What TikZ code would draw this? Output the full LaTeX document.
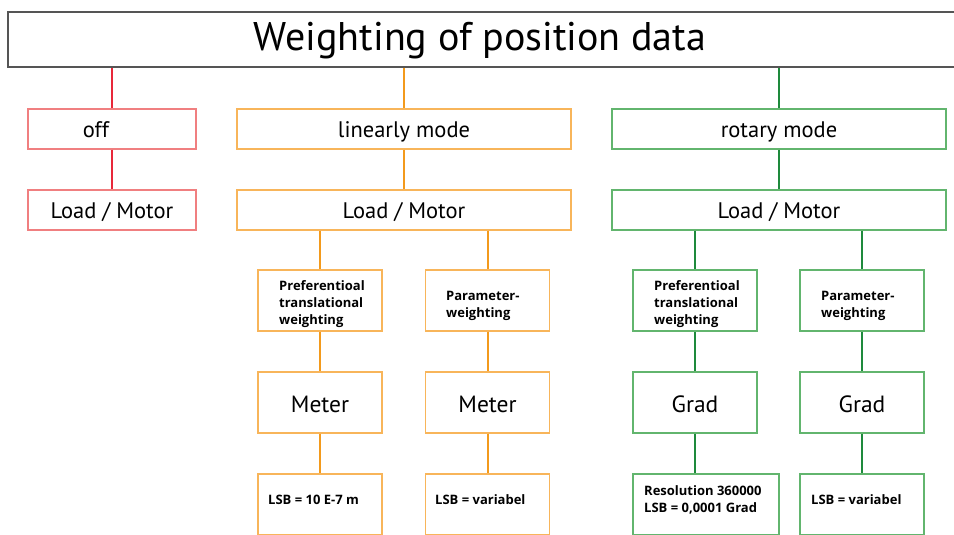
\documentclass[tikz,border=0pt]{standalone}
\usepackage{fontspec}
\setmainfont{PT Sans}
\newfontfamily\smallfont{Open Sans}
\definecolor{cred}{HTML}{E8283A}
\definecolor{credb}{HTML}{F07F80}
\definecolor{corg}{HTML}{F39A1C}
\definecolor{corgb}{HTML}{F8B55A}
\definecolor{cgrn}{HTML}{1E8A3C}
\definecolor{cgrnb}{HTML}{62B56E}
\definecolor{cgray}{HTML}{555555}
\tikzset{
  box/.style={draw, line width=1.4pt, minimum height=40pt, inner sep=0pt, font=\fontsize{22.5}{26}\selectfont, text height=19.5pt, text depth=2pt},
  subbox/.style={draw, line width=1.4pt, minimum width=124pt, minimum height=61pt, inner sep=0pt},
  small/.style={font=\smallfont\bfseries\fontsize{13}{17}\selectfont, align=left, inner sep=0pt, anchor=west},
  big/.style={font=\fontsize{23.5}{26}\selectfont, text height=21.5pt, text depth=2pt},
  con/.style={line width=2pt}
}
\begin{document}
\begin{tikzpicture}[x=1pt,y=-1pt]
\useasboundingbox (0,0) rectangle (954,535);
% title
\node[draw=cgray, line width=1.5pt, minimum width=962pt, minimum height=55pt, inner sep=0pt] (title) at (489,39.5) {};
\node[font=\fontsize{40}{46}\selectfont] (ttext) at (480,40.5) {Weighting of position data};
% red branch
\node[box, draw=credb, minimum width=168pt] (off) at (112,129) {\hspace*{-32pt}off};
\node[box, draw=credb, minimum width=168pt] (rlm) at (112,210) {Load / Motor};
% orange branch
\node[box, draw=corgb, minimum width=334pt] (lin) at (404,129) {linearly mode};
\node[box, draw=corgb, minimum width=334pt] (olm) at (404,210) {Load / Motor};
\node[subbox, draw=corgb] (op1) at (320,300.5) {};
\node[subbox, draw=corgb] (op2) at (487.5,300.5) {};
\node[subbox, draw=corgb, big] (om1) at (320,402.5) {Meter};
\node[subbox, draw=corgb, big] (om2) at (487.5,402.5) {Meter};
\node[subbox, draw=corgb] (ol1) at (320,504.5) {};
\node[subbox, draw=corgb] (ol2) at (487.5,504.5) {};
% green branch
\node[box, draw=cgrnb, minimum width=334pt] (rot) at (779,129) {rotary mode};
\node[box, draw=cgrnb, minimum width=334pt] (glm) at (779,210) {Load / Motor};
\node[subbox, draw=cgrnb] (gp1) at (695,300.5) {};
\node[subbox, draw=cgrnb] (gp2) at (862,300.5) {};
\node[subbox, draw=cgrnb, big] (gm1) at (695,402.5) {Grad};
\node[subbox, draw=cgrnb, big] (gm2) at (862,402.5) {Grad};
\node[subbox, draw=cgrnb, minimum width=146pt] (gl1) at (706,504.5) {};
\node[subbox, draw=cgrnb] (gl2) at (862,504.5) {};
% small texts
\node[small] (t1) at (279,304.5) {Preferentioal\\translational\\weighting};
\node[small] (t2) at (446,306) {Parameter-\\weighting};
\node[small] (t3) at (268,500) {LSB = 10 E-7 m};
\node[small] (t4) at (435,500) {LSB = variabel};
\node[small] (t5) at (654,304.5) {Preferentioal\\translational\\weighting};
\node[small] (t6) at (821,306) {Parameter-\\weighting};
\node[small] (t7) at (644,499.5) {Resolution 360000\\LSB = 0,0001 Grad};
\node[small] (t8) at (811,500) {LSB = variabel};
% connectors
\draw[con, cred] (title.south -| off.north) -- (off.north);
\draw[con, cred] (off) -- (rlm);
\draw[con, corg] (title.south -| lin.north) -- (lin.north);
\draw[con, corg] (lin) -- (olm);
\draw[con, corg] (olm.south -| op1.north) -- (op1.north);
\draw[con, corg] (olm.south -| op2.north) -- (op2.north);
\draw[con, corg] (op1) -- (om1);
\draw[con, corg] (op2) -- (om2);
\draw[con, corg] (om1) -- (ol1);
\draw[con, corg] (om2) -- (ol2);
\draw[con, cgrn] (title.south -| rot.north) -- (rot.north);
\draw[con, cgrn] (rot) -- (glm);
\draw[con, cgrn] (glm.south -| gp1.north) -- (gp1.north);
\draw[con, cgrn] (glm.south -| gp2.north) -- (gp2.north);
\draw[con, cgrn] (gp1) -- (gm1);
\draw[con, cgrn] (gp2) -- (gm2);
\draw[con, cgrn] (gm1.south) -- (gm1.south |- gl1.north);
\draw[con, cgrn] (gm2) -- (gl2);
\end{tikzpicture}
\end{document}
